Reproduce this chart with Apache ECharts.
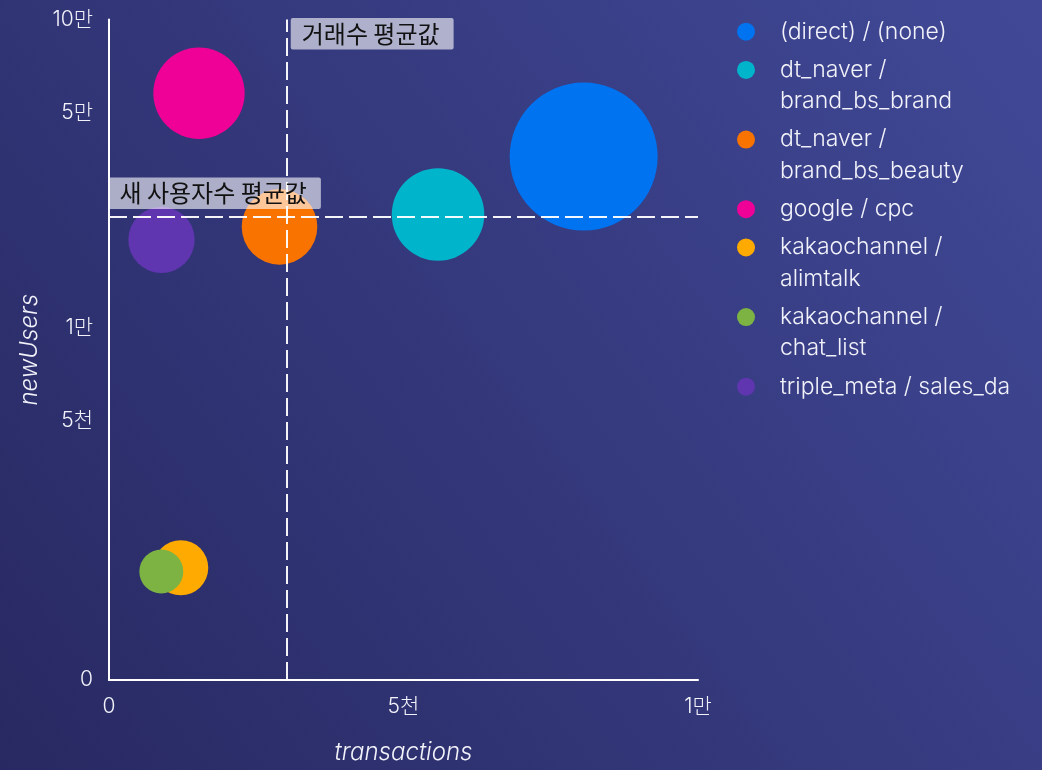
<!DOCTYPE html>
<html>
<head>
<meta charset="utf-8">
<script src="https://cdn.jsdelivr.net/npm/echarts@6/dist/echarts.min.js"></script>
<style>
  html, body { margin: 0; padding: 0; }
  #chart { width: 1042px; height: 770px; }
</style>
</head>
<body>
<div id="chart"></div>
<script>
// Source / medium rows
const sources = [
  '(direct) / (none)',
  'dt_naver / brand_bs_brand',
  'dt_naver / brand_bs_beauty',
  'google / cpc',
  'kakaochannel / alimtalk',
  'kakaochannel / chat_list',
  'triple_meta / sales_da'
];
const transactions = [8059, 5586, 2895, 1528, 1219, 888, 891];
const newUsers = [35920, 23320, 21250, 57660, 1665, 1619, 19290];
// relative bubble weight (area), largest = 100
const bubbleSize = [100, 39.1, 26.1, 38.1, 13.8, 8.8, 20.1];
const colors = ['#0073f0', '#00b5cb', '#f97300', '#ef0096', '#ffaa00', '#7cb342', '#5f35b0'];

// Axis ticks
const xTickValues = [0, 5000, 10000];
const xTickLabels = ['0', '5천', '1만'];
const yTickValues = [720, 5000, 10000, 50000, 100000];
const yTickLabels = ['0', '5천', '1만', '5만', '10만'];

const avgLabelX = '거래수 평균값';
const avgLabelY = '새 사용자수 평균값';

const mean = arr => arr.reduce((s, v) => s + v, 0) / arr.length;
const meanX = mean(transactions);
const meanY = mean(newUsers);

const FONT = 'Inter, "Noto Sans", "Noto Sans CJK KR", sans-serif';
const KFONT = '"Noto Sans CJK KR", "Noto Sans", sans-serif';
const TEXT = '#f2f2fa';
const LINE_H = 31.3;

function tickLabel(values, labels) {
  return v => {
    let best = 0;
    values.forEach((t, i) => {
      if (Math.abs(t - v) < Math.abs(values[best] - v)) best = i;
    });
    return labels[best];
  };
}

// long legend entries wrap after the slash
const legendMaxChars = 22;
function legendLines(name) {
  if (name.length <= legendMaxChars) return [name];
  const k = name.indexOf(' / ');
  return [name.slice(0, k + 2), name.slice(k + 3)];
}

const rich = {
  gap: { width: 25, lineHeight: LINE_H },
  pad: { width: 18, lineHeight: LINE_H },
  txt: { color: TEXT, fontSize: 23, fontWeight: 300, fontFamily: FONT, lineHeight: LINE_H }
};
colors.forEach((c, i) => {
  rich['dot' + i] = { width: 18, height: 18, borderRadius: 9, backgroundColor: c, lineHeight: LINE_H };
});

const series = sources.map((name, i) => ({
  name,
  type: 'scatter',
  data: [[transactions[i], newUsers[i], bubbleSize[i]]],
  symbolSize: d => 148 * Math.sqrt(d[2] / 100),
  itemStyle: { color: colors[i], opacity: 1 },
  emphasis: { disabled: true },
  z: 2
}));

const labelBox = {
  color: '#111',
  fontSize: 24,
  fontFamily: KFONT,
  lineHeight: 27.5,
  backgroundColor: 'rgba(255,255,255,0.6)',
  padding: [2, 14, 2, 11],
  borderRadius: 2
};

series.push({
  name: 'averages',
  type: 'scatter',
  data: [],
  silent: true,
  markLine: {
    silent: true,
    symbol: 'none',
    z: 5,
    lineStyle: { color: '#ffffff', width: 2, type: [18, 6], opacity: 0.95 },
    label: { show: false },
    emphasis: { disabled: true },
    data: [{ xAxis: meanX }, { yAxis: meanY }]
  },
  markPoint: {
    silent: true,
    symbol: 'circle',
    symbolSize: 1,
    z: 6,
    itemStyle: { color: 'rgba(0,0,0,0)' },
    emphasis: { disabled: true },
    data: [
      { coord: [meanX, yTickValues[yTickValues.length - 1]],
        label: Object.assign({ show: true, formatter: avgLabelX, position: [5, -1] }, labelBox) },
      { coord: [0, meanY],
        label: Object.assign({ show: true, formatter: avgLabelY, position: [0, -38.5] }, labelBox) }
    ]
  }
});

const axisNameStyle = { color: TEXT, fontStyle: 'italic', fontSize: 24, fontWeight: 300, fontFamily: FONT };
const axisLabelStyle = { color: TEXT, fontSize: 21, fontWeight: 300, fontFamily: FONT };

const chart = echarts.init(document.getElementById('chart'), null, { renderer: 'canvas' });
chart.setOption({
  backgroundColor: {
    type: 'linear', x: 0, y: 1, x2: 1, y2: 0,
    colorStops: [
      { offset: 0, color: '#282962' },
      { offset: 1, color: '#414997' }
    ]
  },
  animation: false,
  grid: { left: 109, right: 344, top: 19.5, bottom: 90, outerBoundsMode: 'none', containLabel: false },
  xAxis: {
    type: 'value',
    min: 0,
    max: 10000,
    interval: 5000,
    name: 'transactions',
    nameLocation: 'middle',
    nameGap: 61,
    nameTextStyle: axisNameStyle,
    axisLine: { onZero: false, lineStyle: { color: '#ffffff', width: 2 } },
    axisTick: { show: false },
    splitLine: { show: false },
    axisLabel: Object.assign({ margin: 16, formatter: tickLabel(xTickValues, xTickLabels) }, axisLabelStyle)
  },
  yAxis: {
    type: 'log',
    logBase: 10,
    min: yTickValues[0],
    max: yTickValues[yTickValues.length - 1],
    name: 'newUsers',
    nameLocation: 'middle',
    nameGap: 67,
    nameRotate: 90,
    nameTextStyle: axisNameStyle,
    axisLine: { lineStyle: { color: '#ffffff', width: 2 } },
    axisTick: { show: false },
    splitLine: { show: false },
    axisLabel: Object.assign({
      margin: 16,
      customValues: yTickValues,
      formatter: tickLabel(yTickValues, yTickLabels)
    }, axisLabelStyle)
  },
  legend: {
    data: sources,
    orient: 'vertical',
    left: 732,
    top: 16,
    padding: 0,
    itemGap: 7,
    icon: 'none',
    itemWidth: 0,
    itemHeight: LINE_H,
    selectedMode: false,
    formatter: name => {
      const k = sources.indexOf(name);
      return legendLines(name)
        .map((line, j) => (j === 0 ? '{dot' + k + '|}' : '{pad|}') + '{gap|}{txt|' + line + '}')
        .join('\n');
    },
    textStyle: { color: TEXT, fontSize: 23, fontFamily: FONT, lineHeight: LINE_H, rich }
  },
  series
});
</script>
</body>
</html>
